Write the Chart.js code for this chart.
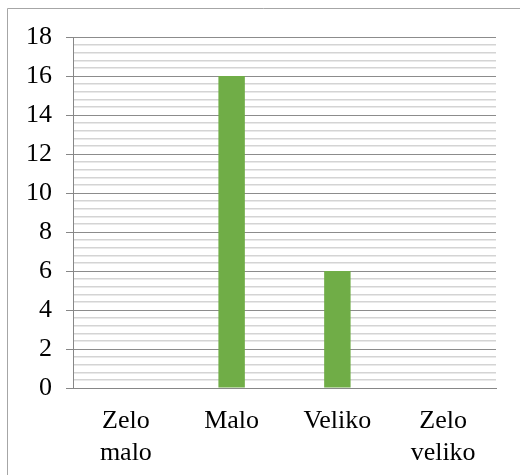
<!DOCTYPE html>
<html>
<head>
<meta charset="utf-8">
<script src="https://cdn.jsdelivr.net/npm/chart.js@4"></script>
<style>
html,body{margin:0;padding:0;background:#fff;}
#wrap{position:relative;width:520px;height:475px;}
</style>
</head>
<body>
<div id="wrap"><canvas id="c" width="520" height="475"></canvas></div>
<script>
const categories = [["Zelo","malo"], "Malo", "Veliko", ["Zelo","veliko"]];
const values = [0, 16, 6, 0];
const yMin = 0, yMax = 18, majorStep = 2, minorStep = 0.4;

const isMajor = v => Math.abs(v / majorStep - Math.round(v / majorStep)) < 1e-6;

const frame = {
  id: 'frame',
  beforeDraw(chart) {
    const ctx = chart.ctx;
    ctx.save();
    ctx.strokeStyle = '#a6a6a6';
    ctx.lineWidth = 1;
    ctx.beginPath();
    ctx.moveTo(7.5, 475);
    ctx.lineTo(7.5, 8.5);
    ctx.lineTo(520, 8.5);
    ctx.stroke();
    ctx.restore();
  }
};

new Chart(document.getElementById('c'), {
  type: 'bar',
  data: {
    labels: categories,
    datasets: [{
      data: values,
      backgroundColor: '#70ad47',
      barPercentage: 0.25,
      categoryPercentage: 1
    }]
  },
  options: {
    responsive: false,
    animation: false,
    devicePixelRatio: 1,
    layout: { padding: { left: 0, top: 37, right: 24, bottom: 0 } },
    plugins: { legend: { display: false }, tooltip: { enabled: false } },
    scales: {
      x: {
        grid: { display: false, drawTicks: false },
        border: { display: true, color: '#878787', width: 1 },
        ticks: {
          color: '#000',
          font: { family: 'Liberation Serif', size: 26, lineHeight: 1.2 },
          padding: 18,
          maxRotation: 0,
          autoSkip: false
        },
        afterFit(s) { s.height = 475 - 388 - 0; }
      },
      y: {
        min: yMin,
        max: yMax,
        border: { display: true, color: '#878787', width: 1 },
        grid: {
          color: ctx => (ctx.tick && isMajor(ctx.tick.value)) ? '#8c8c8c' : '#d4d4d4',
          lineWidth: ctx => (ctx.tick && isMajor(ctx.tick.value)) ? 1 : 1.5,
          tickColor: ctx => (ctx.tick && isMajor(ctx.tick.value)) ? '#878787' : 'rgba(0,0,0,0)',
          tickLength: 7,
          drawTicks: true
        },
        ticks: {
          stepSize: minorStep,
          autoSkip: false,
          maxTicksLimit: 1000,
          color: '#000',
          padding: 14,
          font: { family: 'Liberation Serif', size: 26 },
          callback: v => isMajor(v) ? String(Math.round(v)) : ''
        },
        afterFit(s) { s.width = 73; }
      }
    }
  },
  plugins: [frame]
});
</script>
</body>
</html>
